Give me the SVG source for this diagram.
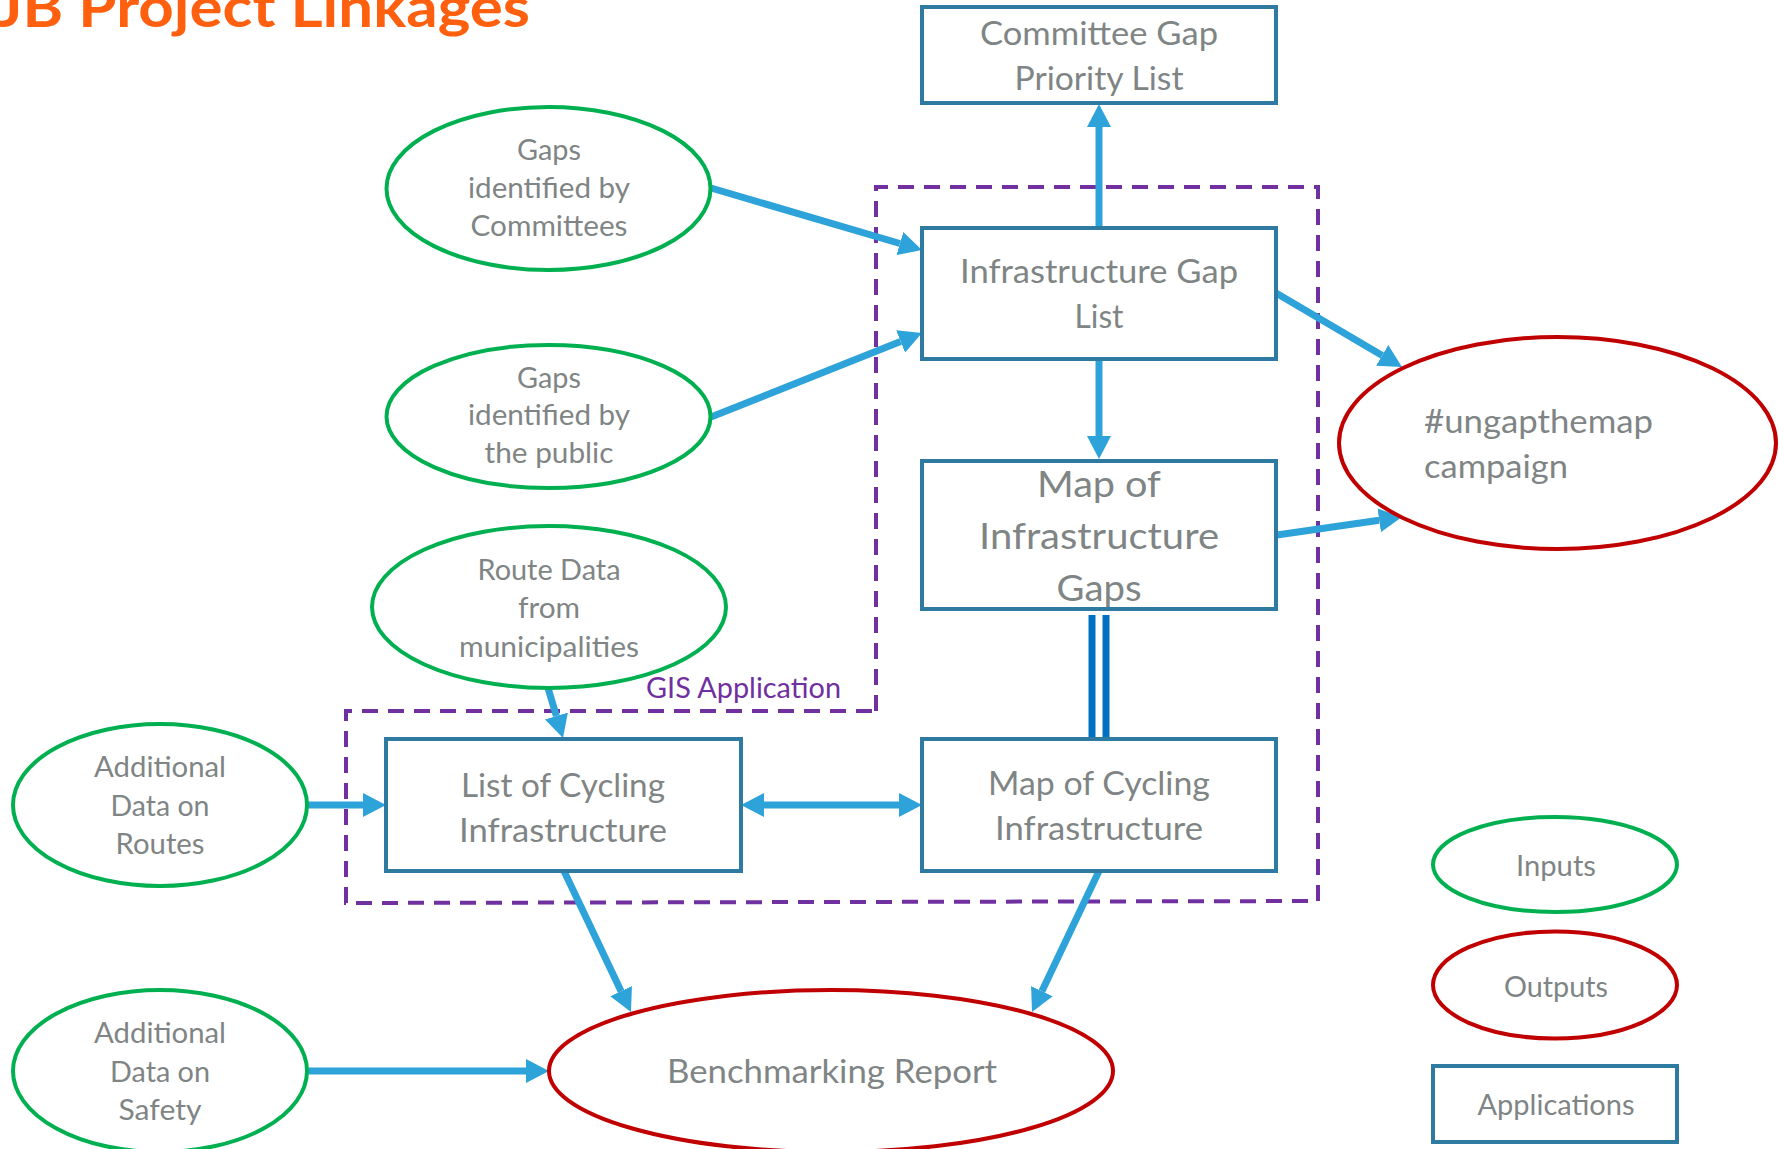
<svg xmlns="http://www.w3.org/2000/svg" width="1779" height="1149" viewBox="0 0 1779 1149">
<style>
.t{font-family:Lato,"Liberation Sans",sans-serif;fill:#7F8585;text-anchor:middle}
.f32{font-size:33.5px}.f28{font-size:29px}.f36{font-size:37.5px}.fl{font-size:29px}
.in{fill:#fff;stroke:#00B050;stroke-width:4}
.out{fill:#fff;stroke:#C00000;stroke-width:4}
.app{fill:#fff;stroke:#2E7AA1;stroke-width:4}
.c{stroke:#2EA3DA;stroke-width:7;fill:none;marker-end:url(#ah)}
</style>
<defs>
<marker id="ah" markerUnits="userSpaceOnUse" markerWidth="24" markerHeight="24" refX="0" refY="12" orient="auto-start-reverse" viewBox="0 0 24 24">
<path d="M0,0 L23,12 L0,24 z" fill="#2EA3DA"/>
</marker>
</defs>
<rect width="1779" height="1149" fill="#fff"/>
<text x="-4" y="27" font-family="Lato,'Liberation Sans',sans-serif" font-weight="bold" font-size="56" fill="#FF6010" textLength="534" lengthAdjust="spacingAndGlyphs">JB Project Linkages</text>

<g id="gis-boundary">
<path d="M876,711 L876,187 L1318,187 L1318,901 L346,903 L346,711 Z" fill="none" stroke="#7030A0" stroke-width="4" stroke-dasharray="16,10"/>
<text x="646" y="698" font-family="Lato,'Liberation Sans',sans-serif" font-size="28" fill="#7030A0" textLength="195" lengthAdjust="spacingAndGlyphs">GIS Application</text>
</g>

<g id="connectors">
<line class="c" x1="711" y1="188" x2="899.9" y2="243.5"/>
<line class="c" x1="711" y1="417" x2="900.6" y2="341.5"/>
<line class="c" x1="1099" y1="228" x2="1099" y2="127"/>
<line class="c" x1="1099" y1="359" x2="1099" y2="436"/>
<line class="c" x1="1276" y1="293" x2="1382.2" y2="355.4"/>
<line class="c" x1="1277" y1="535" x2="1379.2" y2="520.3"/>
<line class="c" x1="548" y1="688" x2="556.4" y2="716"/>
<line class="c" x1="307" y1="805" x2="363" y2="805"/>
<line class="c" x1="764" y1="805" x2="899" y2="805" style="marker-start:url(#ah)"/>
<line class="c" x1="564" y1="871" x2="621.1" y2="991.2"/>
<line class="c" x1="1099" y1="871" x2="1041.9" y2="991.2"/>
<line class="c" x1="306" y1="1071" x2="526" y2="1071"/>
<line x1="1092" y1="615" x2="1092" y2="739" stroke="#0070C0" stroke-width="7"/>
<line x1="1106" y1="615" x2="1106" y2="739" stroke="#0070C0" stroke-width="7"/>
</g>

<g id="committee-gap-priority-list">
<rect class="app" x="922" y="7" width="354" height="96"/>
<text class="t f32" x="1099" y="45" textLength="238" lengthAdjust="spacingAndGlyphs">Committee Gap</text>
<text class="t f32" x="1099" y="90" textLength="169" lengthAdjust="spacingAndGlyphs">Priority List</text>
</g>
<g id="infrastructure-gap-list">
<rect class="app" x="922" y="228" width="354" height="131"/>
<text class="t f32" x="1099" y="283" textLength="278" lengthAdjust="spacingAndGlyphs">Infrastructure Gap</text>
<text class="t f32" x="1099" y="328" textLength="49" lengthAdjust="spacingAndGlyphs">List</text>
</g>
<g id="map-infrastructure-gaps">
<rect class="app" x="922" y="461" width="354" height="148"/>
<text class="t f36" x="1099" y="497" textLength="124" lengthAdjust="spacingAndGlyphs">Map of</text>
<text class="t f36" x="1099" y="549" textLength="240" lengthAdjust="spacingAndGlyphs">Infrastructure</text>
<text class="t f36" x="1099" y="601" textLength="85" lengthAdjust="spacingAndGlyphs">Gaps</text>
</g>
<g id="map-cycling-infrastructure">
<rect class="app" x="922" y="739" width="354" height="132"/>
<text class="t f32" x="1099" y="795" textLength="222" lengthAdjust="spacingAndGlyphs">Map of Cycling</text>
<text class="t f32" x="1099" y="840" textLength="208" lengthAdjust="spacingAndGlyphs">Infrastructure</text>
</g>
<g id="list-cycling-infrastructure">
<rect class="app" x="386" y="739" width="355" height="132"/>
<text class="t f32" x="563" y="797" textLength="204" lengthAdjust="spacingAndGlyphs">List of Cycling</text>
<text class="t f32" x="563" y="842" textLength="208" lengthAdjust="spacingAndGlyphs">Infrastructure</text>
</g>

<g id="gaps-committees">
<ellipse class="in" cx="548.5" cy="188.5" rx="162" ry="81.5"/>
<text class="t f28" x="549" y="160" textLength="64" lengthAdjust="spacingAndGlyphs">Gaps</text>
<text class="t f28" x="549" y="198" textLength="162" lengthAdjust="spacingAndGlyphs">identified by</text>
<text class="t f28" x="549" y="236" textLength="157" lengthAdjust="spacingAndGlyphs">Committees</text>
</g>
<g id="gaps-public">
<ellipse class="in" cx="548.5" cy="416.5" rx="162" ry="71.5"/>
<text class="t f28" x="549" y="388" textLength="64" lengthAdjust="spacingAndGlyphs">Gaps</text>
<text class="t f28" x="549" y="425" textLength="162" lengthAdjust="spacingAndGlyphs">identified by</text>
<text class="t f28" x="549" y="463" textLength="129" lengthAdjust="spacingAndGlyphs">the public</text>
</g>
<g id="route-data">
<ellipse class="in" cx="549" cy="607" rx="177" ry="81"/>
<text class="t f28" x="549" y="580" textLength="143" lengthAdjust="spacingAndGlyphs">Route Data</text>
<text class="t f28" x="549" y="618" textLength="62" lengthAdjust="spacingAndGlyphs">from</text>
<text class="t f28" x="549" y="657" textLength="180" lengthAdjust="spacingAndGlyphs">municipalities</text>
</g>
<g id="additional-routes">
<ellipse class="in" cx="160" cy="805" rx="147" ry="81"/>
<text class="t f28" x="160" y="777" textLength="132" lengthAdjust="spacingAndGlyphs">Additional</text>
<text class="t f28" x="160" y="816" textLength="99" lengthAdjust="spacingAndGlyphs">Data on</text>
<text class="t f28" x="160" y="854" textLength="89" lengthAdjust="spacingAndGlyphs">Routes</text>
</g>
<g id="additional-safety">
<ellipse class="in" cx="160" cy="1071" rx="147" ry="81"/>
<text class="t f28" x="160" y="1043" textLength="132" lengthAdjust="spacingAndGlyphs">Additional</text>
<text class="t f28" x="160" y="1082" textLength="100" lengthAdjust="spacingAndGlyphs">Data on</text>
<text class="t f28" x="160" y="1120" textLength="83" lengthAdjust="spacingAndGlyphs">Safety</text>
</g>
<g id="benchmarking-report">
<ellipse class="out" cx="831" cy="1071" rx="282" ry="81"/>
<text class="t f32" x="832" y="1083" textLength="330" lengthAdjust="spacingAndGlyphs">Benchmarking Report</text>
</g>
<g id="ungapthemap">
<ellipse class="out" cx="1557.5" cy="443" rx="218.5" ry="106"/>
<text class="t f32" x="1424" y="433" style="text-anchor:start" textLength="229" lengthAdjust="spacingAndGlyphs">#ungapthemap</text>
<text class="t f32" x="1424" y="478" style="text-anchor:start" textLength="144" lengthAdjust="spacingAndGlyphs">campaign</text>
</g>

<g id="legend-inputs">
<ellipse class="in" cx="1555" cy="864.5" rx="122" ry="47.5"/>
<text class="t fl" x="1556" y="876" textLength="80" lengthAdjust="spacingAndGlyphs">Inputs</text>
</g>
<g id="legend-outputs">
<ellipse class="out" cx="1555" cy="985" rx="122" ry="53.5"/>
<text class="t fl" x="1556" y="997" textLength="104" lengthAdjust="spacingAndGlyphs">Outputs</text>
</g>
<g id="legend-applications">
<rect class="app" x="1433" y="1066" width="244" height="76"/>
<text class="t fl" x="1556" y="1115" textLength="157" lengthAdjust="spacingAndGlyphs">Applications</text>
</g>
</svg>
